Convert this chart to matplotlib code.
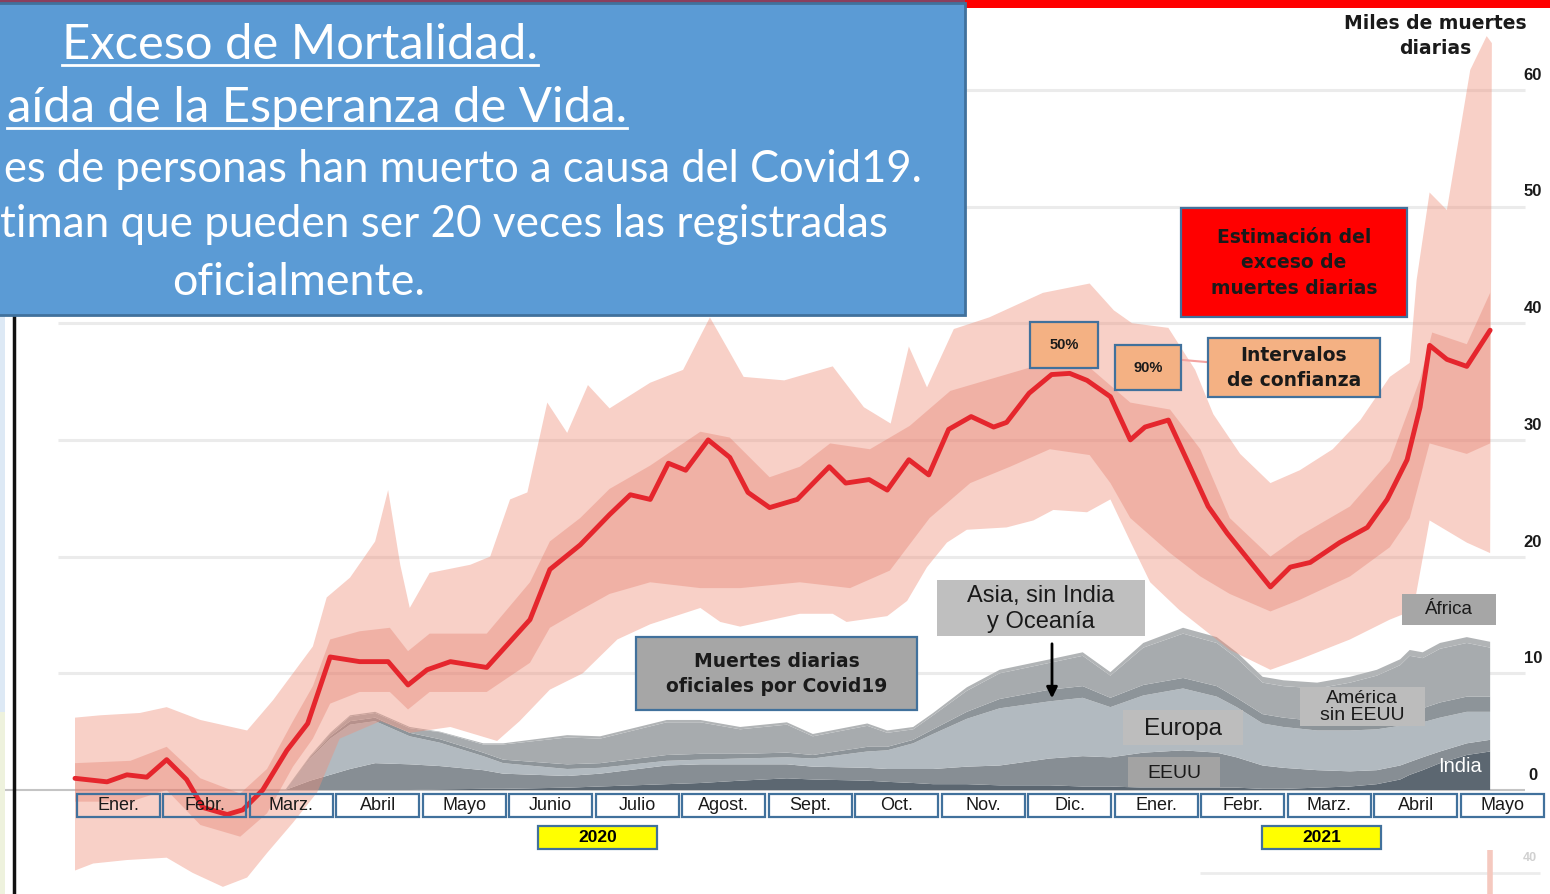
#!/usr/bin/env python3
"""Exceso de mortalidad por Covid19: estimated excess daily deaths (median + 50/90% bands)
against official daily Covid19 deaths stacked by region."""

import matplotlib

matplotlib.use("Agg")
import matplotlib.pyplot as plt
from matplotlib.lines import Line2D
from matplotlib.patches import Rectangle
import numpy as np

W, H = 1550, 894
# slide pixel -> data: 1 month = 86.5 px from x=75, 1k deaths = 11.67 px, zero line at y=790
X0, PX_M, Y0, PX_V = 75, 86.5, 790, 11.67

# ---- data: x = months since 1 Jan 2020, values = thousand deaths per day ----
line_m = [0.0, 0.37, 0.60, 0.83, 1.06, 1.29, 1.48, 1.76, 1.94, 2.17, 2.45, 2.69, 2.95, 3.29,
          3.62, 3.85, 4.07, 4.34, 4.76, 5.26, 5.49, 5.84, 6.18, 6.42, 6.65, 6.86, 7.06, 7.32,
          7.57, 7.78, 8.03, 8.35, 8.72, 8.91, 9.18, 9.39, 9.64, 9.87, 10.10, 10.36, 10.62,
          10.77, 11.03, 11.29, 11.50, 11.70, 11.97, 12.20, 12.37, 12.64, 12.84, 13.10, 13.32,
          13.82, 14.05, 14.28, 14.62, 14.94, 15.17, 15.40, 15.55, 15.66, 15.86, 16.09, 16.36]
line_v = [1.0, 0.7, 1.3, 1.1, 2.6, 0.9, -1.5, -2.1, -1.7, 0.0, 3.4, 5.7, 11.4, 11.0,
          11.0, 9.0, 10.3, 11.0, 10.5, 14.6, 18.9, 21.0, 23.6, 25.3, 24.9, 28.0, 27.4, 30.0,
          28.5, 25.5, 24.2, 24.9, 27.7, 26.3, 26.6, 25.7, 28.3, 27.0, 30.9, 32.0, 31.1,
          31.5, 34.0, 35.6, 35.7, 35.1, 33.7, 30.0, 31.1, 31.7, 28.5, 24.3, 22.0,
          17.4, 19.1, 19.5, 21.2, 22.5, 24.9, 28.3, 32.8, 38.1, 36.9, 36.3, 39.4]

ci90_up_m = [0.0, 0.29, 0.75, 1.06, 1.45, 1.99, 2.29, 2.52, 2.75, 2.91, 3.18, 3.47, 3.62, 3.76,
             3.87, 4.10, 4.57, 4.80, 5.03, 5.23, 5.46, 5.69, 5.93, 6.18, 6.65, 7.03, 7.34,
             7.57, 7.73, 8.20, 8.76, 9.12, 9.43, 9.64, 9.85, 10.16, 10.57, 11.19, 11.73,
             12.01, 12.22, 12.64, 12.95, 13.16, 13.47, 13.82, 14.16, 14.54, 14.86, 15.20,
             15.43, 15.51, 15.66, 15.86, 16.13, 16.32, 16.38]
ci90_up_v = [6.2, 6.4, 6.6, 7.1, 6.0, 5.1, 7.7, 10.0, 12.3, 16.5, 18.2, 21.3, 25.7, 19.3,
             15.6, 18.6, 19.3, 20.0, 24.9, 25.5, 33.2, 30.6, 34.7, 32.7, 34.9, 36.0, 40.5,
             37.5, 35.4, 35.1, 36.3, 32.8, 31.4, 38.0, 34.5, 39.5, 40.5, 42.6, 43.4,
             41.1, 40.0, 39.6, 36.0, 32.2, 28.8, 26.3, 27.4, 29.2, 31.7, 35.4,
             36.6, 43.7, 51.2, 49.7, 61.7, 64.6, 64.0]
ci90_lo_m = [0.0, 0.21, 0.60, 1.06, 1.36, 1.71, 1.99, 2.22, 2.52, 2.80, 3.06, 3.53, 3.87, 4.34,
             4.88, 5.14, 5.49, 5.87, 6.27, 6.65, 7.23, 7.46, 7.69, 8.38, 8.76, 8.92, 9.39,
             9.62, 9.85, 10.08, 10.31, 10.77, 11.08, 11.31, 11.70, 11.97, 12.20, 12.43,
             12.77, 13.35, 13.82, 14.16, 14.74, 15.20, 15.47, 15.66, 16.09, 16.36]
ci90_lo_v = [-6.9, -6.3, -6.0, -5.8, -7.1, -8.3, -7.5, -5.4, -2.8, -0.2, 4.4, 5.9, 4.9, 5.4,
             4.2, 5.9, 8.6, 10.0, 12.9, 14.2, 15.6, 14.4, 14.0, 15.1, 15.1, 14.4, 14.9,
             16.2, 19.1, 21.2, 22.3, 22.5, 23.1, 24.0, 23.8, 24.9, 21.3, 17.8,
             15.4, 12.0, 10.3, 11.2, 12.9, 14.6, 15.4, 23.1, 21.2, 20.3]

ci50_up_m = [0.0, 0.64, 1.06, 1.45, 1.91, 2.22, 2.52, 2.75, 2.95, 3.29, 3.64, 3.85, 4.10, 4.76,
             5.26, 5.49, 5.84, 6.18, 6.65, 7.23, 7.57, 8.03, 8.38, 8.73, 9.19, 9.65, 10.12,
             10.58, 11.27, 11.73, 12.20, 12.66, 13.01, 13.35, 13.82, 14.16, 14.74, 15.20,
             15.55, 15.69, 16.09, 16.36]
ci50_up_v = [2.3, 2.5, 3.7, 1.0, -0.3, 1.8, 5.9, 8.9, 12.9, 13.6, 13.9, 11.9, 13.4, 13.4,
             17.8, 21.3, 23.3, 25.8, 27.8, 30.7, 30.2, 26.8, 27.7, 29.7, 29.2, 31.2, 34.2,
             35.2, 36.7, 36.2, 33.2, 32.6, 29.2, 23.3, 20.0, 21.8, 24.3, 28.2,
             35.2, 39.2, 38.2, 42.6]
ci50_lo_m = [0.0, 0.64, 1.06, 1.45, 1.91, 2.22, 2.52, 2.75, 2.95, 3.29, 3.64, 3.85, 4.10, 4.76,
             5.26, 5.49, 5.84, 6.18, 6.65, 7.23, 7.69, 8.38, 8.96, 9.42, 9.88, 10.35, 10.81,
             11.27, 11.73, 11.97, 12.20, 12.66, 13.01, 13.35, 13.82, 14.16, 14.74, 15.20,
             15.43, 15.66, 16.09, 16.36]
ci50_lo_v = [-1.0, -1.0, 0.0, -3.0, -4.0, -2.0, 2.0, 4.4, 7.4, 8.4, 8.4, 6.9, 8.4, 8.4,
             10.9, 13.9, 15.4, 16.8, 17.8, 17.3, 17.3, 17.8, 17.3, 18.8, 23.3, 26.3, 27.7,
             29.2, 28.7, 26.3, 23.3, 20.3, 18.3, 16.8, 15.3, 16.3, 18.3, 20.8,
             23.3, 29.7, 28.8, 29.7]

# official Covid19 deaths, stacked from the bottom
stack_m = [2.43, 2.72, 2.95, 3.18, 3.47, 3.87, 4.22, 4.72, 4.95, 5.69, 6.07, 6.84, 7.23, 7.69,
           8.23, 8.53, 9.16, 9.39, 9.69, 9.92, 10.31, 10.69, 11.27, 11.65, 11.97, 12.35,
           12.81, 13.20, 13.43, 13.73, 13.97, 14.36, 14.74, 15.05, 15.32, 15.43, 15.58,
           15.78, 16.09, 16.36]
india = [0, 0, 0, 0, 0, 0, 0.05, 0.1, 0.1, 0.2, 0.3, 0.5, 0.6, 0.8,
         1.0, 0.9, 0.8, 0.7, 0.6, 0.5, 0.5, 0.4, 0.4, 0.3, 0.3, 0.2,
         0.2, 0.2, 0.2, 0.1, 0.1, 0.2, 0.3, 0.5, 0.9, 1.3, 1.7,
         2.3, 3.0, 3.3]
eeuu = [0, 0.8, 1.3, 1.8, 2.3, 2.2, 2.0, 1.6, 1.3, 1.0, 1.1, 1.6, 1.6, 1.4,
        1.2, 1.1, 1.1, 1.1, 1.2, 1.3, 1.5, 1.7, 2.3, 2.6, 2.5, 3.0,
        3.2, 3.0, 2.6, 2.0, 1.8, 1.5, 1.3, 1.2, 1.2, 1.1, 1.1,
        1.0, 1.0, 1.0]
europa = [0, 1.9, 3.1, 3.8, 3.6, 2.4, 2.0, 1.2, 0.9, 0.6, 0.5, 0.4, 0.4, 0.5,
          0.6, 0.7, 1.4, 1.6, 2.2, 3.0, 4.1, 4.9, 4.9, 5.0, 4.3, 4.9,
          5.3, 4.8, 4.3, 3.6, 3.5, 3.4, 3.5, 3.5, 3.4, 3.3, 3.0,
          2.9, 2.7, 2.4]
asia = [0, 0.1, 0.2, 0.3, 0.3, 0.3, 0.3, 0.3, 0.3, 0.4, 0.4, 0.5, 0.5, 0.4,
        0.4, 0.3, 0.4, 0.3, 0.3, 0.4, 0.6, 0.8, 1.0, 1.0, 0.8, 0.9,
        0.9, 0.9, 0.8, 0.8, 0.8, 0.8, 0.9, 1.0, 1.1, 1.2, 1.2,
        1.3, 1.3, 1.3]
america = [0, 0.1, 0.2, 0.4, 0.4, 0.4, 0.6, 0.7, 1.3, 2.3, 2.1, 2.8, 2.7, 2.1,
           2.4, 1.6, 1.8, 1.2, 0.9, 1.2, 1.8, 2.2, 2.3, 2.6, 1.9, 3.2,
           3.8, 3.7, 3.4, 2.7, 2.7, 2.8, 3.2, 3.6, 4.1, 4.6, 4.3,
           4.6, 4.6, 4.2]
africa = [0, 0.05, 0.1, 0.1, 0.1, 0.1, 0.05, 0.1, 0.1, 0.2, 0.2, 0.2, 0.2, 0.2,
          0.2, 0.2, 0.2, 0.2, 0.2, 0.2, 0.3, 0.3, 0.3, 0.3, 0.3, 0.4,
          0.5, 0.5, 0.5, 0.5, 0.5, 0.5, 0.5, 0.5, 0.5, 0.5, 0.5,
          0.5, 0.5, 0.5]

months = ["Ener.", "Febr.", "Marz.", "Abril", "Mayo", "Junio", "Julio", "Agost.", "Sept.",
          "Oct.", "Nov.", "Dic.", "Ener.", "Febr.", "Marz.", "Abril", "Mayo"]
years = [("2020", 5.35, 6.73), ("2021", 13.72, 15.10)]
yticks = [0, 10, 20, 30, 40, 50, 60]

title_lines = ["Exceso de Mortalidad.",
               "aída de la Esperanza de Vida.",
               "es de personas han muerto a causa del Covid19.",
               "timan que pueden ser 20 veces las registradas",
               "oficialmente."]

STACK_COLORS = ["#5c6771", "#878e94", "#b2bac0", "#8d9499", "#a7abae", "#b1b4b6"]
BOX_EDGE = "#41719c"
ARIAL = "Liberation Sans"
VERDANA = "DejaVu Sans"


def px(x, y):
    """slide pixel -> data coords"""
    return (x - X0) / PX_M, (Y0 - y) / PX_V


def data_box(ax, x0, y0, x1, y1, fc, ec="none", lw=0.0, z=6):
    m0, v1 = px(x0, y1)
    ax.add_patch(Rectangle((m0, v1), (x1 - x0) / PX_M, (y1 - y0) / PX_V,
                           facecolor=fc, edgecolor=ec, linewidth=lw, zorder=z))


def fig_rect(fig, x0, y0, x1, y1, fc, ec="none", lw=0.0, z=2):
    fig.add_artist(Rectangle((x0 / W, 1 - y1 / H), (x1 - x0) / W, (y1 - y0) / H,
                             facecolor=fc, edgecolor=ec, linewidth=lw,
                             transform=fig.transFigure, zorder=z))


fig = plt.figure(figsize=(W / 100, H / 100), dpi=100)
ax = fig.add_axes([0, 0, 1, 1])
ax.set_xlim(-X0 / PX_M, (W - X0) / PX_M)
ax.set_ylim((Y0 - H) / PX_V, Y0 / PX_V)
ax.axis("off")

# gridlines + right-hand tick labels (sitting just above their line)
ax.hlines(yticks[1:], -0.2, 16.76, color="#ebebeb", lw=2.2, zorder=1)
ax.hlines(0, -0.9, 16.76, color="#c4c4c4", lw=1.5, zorder=1)
for t in yticks:
    ax.text((1533 - X0) / PX_M, t + 1.25, str(t), ha="center", va="center",
            fontsize=12, fontweight="bold", family=ARIAL, color="#1a1a1a")
ax.text(*px(1435, 36), "Miles de muertes\ndiarias", ha="center", va="center",
        fontsize=13.5, fontweight="bold", family=VERDANA, color="#1a1a1a", linespacing=1.4)

# official deaths by region
polys = ax.stackplot(stack_m, india, eeuu, europa, asia, america, africa,
                     colors=STACK_COLORS, lw=0)
for p in polys:
    p.set_zorder(2)

# excess deaths: 90% and 50% intervals, then the central estimate
ax.fill(np.r_[ci90_up_m, ci90_lo_m[::-1]], np.r_[ci90_up_v, ci90_lo_v[::-1]],
        color="#ef8f7a", alpha=0.42, lw=0, zorder=3)
ax.fill(np.r_[ci50_up_m, ci50_lo_m[::-1]], np.r_[ci50_up_v, ci50_lo_v[::-1]],
        color="#e06a58", alpha=0.30, lw=0, zorder=3)
ax.plot(line_m, line_v, color="#e5262d", lw=3.5, solid_joinstyle="round",
        solid_capstyle="round", zorder=4)

# month boxes and years
for i, name in enumerate(months):
    ax.add_patch(Rectangle((i + 0.02, -2.3), 0.96, 1.95, fill=False, edgecolor=BOX_EDGE,
                           linewidth=1.6, zorder=5))
    ax.text(i + 0.5, -1.32, name, ha="center", va="center", fontsize=13,
            family=ARIAL, color="#1a1a1a", zorder=6)
for label, m0, m1 in years:
    ax.add_patch(Rectangle((m0, -5.06), m1 - m0, 1.98, facecolor="#ffff00",
                           edgecolor=BOX_EDGE, linewidth=1.6, zorder=5))
    ax.text((m0 + m1) / 2, -4.07, label, ha="center", va="center", fontsize=12.5,
            fontweight="bold", family=ARIAL, zorder=6)

# annotations
data_box(ax, 1181, 208, 1407, 317, "#ff0000", BOX_EDGE, 1.6)
ax.text(*px(1294, 263), "Estimación del\nexceso de\nmuertes diarias", ha="center",
        va="center", fontsize=13.5, fontweight="bold", family=VERDANA, color="#1a1a1a",
        linespacing=1.42, zorder=7)
data_box(ax, 1208, 338, 1380, 397, "#f4b183", BOX_EDGE, 1.6)
ax.text(*px(1294, 368), "Intervalos\nde confianza", ha="center", va="center",
        fontsize=13.5, fontweight="bold", family=VERDANA, color="#1a1a1a",
        linespacing=1.38, zorder=7)
ax.plot(*zip(px(1183, 360), px(1206, 362)), color="#f3a3a0", lw=1.5, zorder=5)
data_box(ax, 1030, 322, 1098, 368, "#f4b183", BOX_EDGE, 1.6)
ax.text(*px(1064, 345), "50%", ha="center", va="center", fontsize=10.5,
        fontweight="bold", family=ARIAL, color="#1a1a1a", zorder=7)
data_box(ax, 1115, 345, 1181, 390, "#f4b183", BOX_EDGE, 1.6)
ax.text(*px(1148, 368), "90%", ha="center", va="center", fontsize=10.5,
        fontweight="bold", family=ARIAL, color="#1a1a1a", zorder=7)

data_box(ax, 636, 637, 917, 710, "#a6a6a6", BOX_EDGE, 1.6)
ax.text(*px(777, 674), "Muertes diarias\noficiales por Covid19", ha="center", va="center",
        fontsize=13.5, fontweight="bold", family=VERDANA, color="#1a1a1a",
        linespacing=1.42, zorder=7)
data_box(ax, 937, 580, 1145, 636, "#bfbfbf")
ax.text(*px(1041, 609), "Asia, sin India\ny Oceanía", ha="center", va="center",
        fontsize=17, family=ARIAL, color="#1a1a1a", linespacing=1.22, zorder=7)
ax.annotate("", xy=px(1052, 701), xytext=px(1052, 641),
            arrowprops=dict(arrowstyle="-|>", color="black", lw=2, mutation_scale=16),
            zorder=7)
data_box(ax, 1123, 710, 1243, 745, "#bdbdbd")
ax.text(*px(1183, 729), "Europa", ha="center", va="center", fontsize=17.5,
        family=ARIAL, color="#1a1a1a", zorder=7)
data_box(ax, 1128, 757, 1220, 787, "#a3a3a3")
ax.text(*px(1174, 773), "EEUU", ha="center", va="center", fontsize=14,
        family=ARIAL, color="#1a1a1a", zorder=7)
data_box(ax, 1300, 687, 1425, 726, "#bcbcbc")
ax.text(*px(1362, 707), "América\nsin EEUU", ha="center", va="center", fontsize=14,
        family=ARIAL, color="#1a1a1a", linespacing=1.0, zorder=7)
data_box(ax, 1402, 594, 1496, 625, "#a6a6a6")
ax.text(*px(1449, 610), "África", ha="center", va="center", fontsize=13.5,
        family=ARIAL, color="#1a1a1a", zorder=7)
ax.text(*px(1460, 766), "India", ha="center", va="center", fontsize=14.5,
        family=ARIAL, color="white", zorder=7)

# remnants of the slide below the chart
ax.hlines(px(0, 873)[1], px(1200, 0)[0], px(1540, 0)[0], color="#ececec", lw=2, zorder=1)
ax.text(*px(1530, 858), "40", ha="center", va="center", fontsize=9, fontweight="bold",
        family=ARIAL, color="#d0d0d0")
ax.vlines(px(1490, 0)[0], px(0, 894)[1], px(0, 850)[1], color="#f5c9bf", lw=4, zorder=3)

# slide decoration: left rule, red strip, blue title box
fig_rect(fig, 0, 315, 5, 712, "#dde9f5", z=1)
fig_rect(fig, 0, 712, 5, 894, "#eef2dd", z=1)
fig.add_artist(Line2D([14 / W, 14 / W], [0, 1 - 315 / H], color="#111111", lw=2.5,
                      transform=fig.transFigure, zorder=2))
fig_rect(fig, 0, 0, W, 3, "#8a3f5e", z=2)
fig_rect(fig, 965, 0, W, 8, "#ff0000", z=2)
fig_rect(fig, -10, 3, 965, 315, "#5b9bd5", "#41719c", 2.0, z=3)

renderer = fig.canvas.get_renderer()
probe = fig.text(0, 0, title_lines[2], fontsize=30, family="Lato")
fs = 30 * 918 / probe.get_window_extent(renderer).width
probe.remove()

# x, baseline, alignment, size factor, underlined
layout = [(300, 59, "center", 1.125, True), (627, 122, "right", 1.125, True),
          (922, 182, "right", 1.0, False), (888, 237, "right", 1.01, False),
          (299, 295, "center", 1.03, False)]
for text, (x, base, ha, k, underline) in zip(title_lines, layout):
    t = fig.text(x / W, 1 - base / H, text, ha=ha, va="baseline", fontsize=fs * k,
                 family="Lato", color="white", zorder=4)
    if underline:
        ext = t.get_window_extent(renderer)
        yy = 1 - (base + 6) / H
        fig.add_artist(Line2D([max(ext.x0, 0) / W, ext.x1 / W], [yy, yy], color="white",
                              lw=2.0, transform=fig.transFigure, zorder=4))

fig.savefig("out.png", dpi=100)
